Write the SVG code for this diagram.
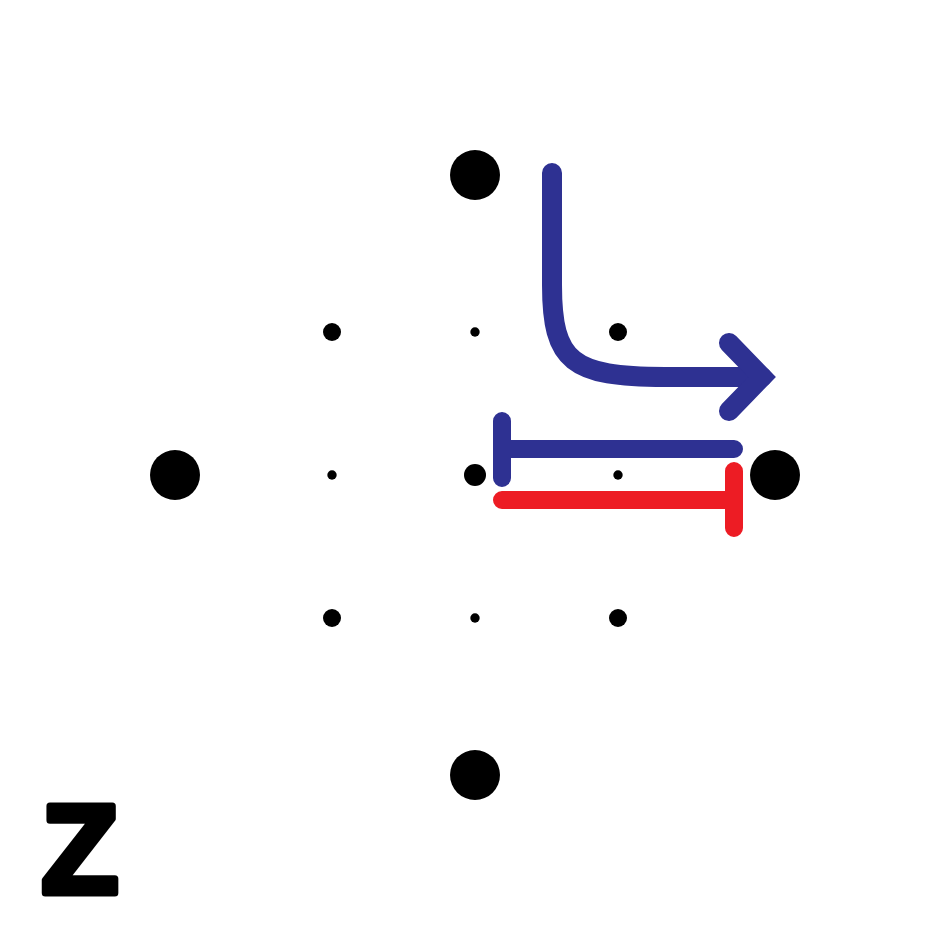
<svg xmlns="http://www.w3.org/2000/svg" width="950" height="950" viewBox="0 0 950 950">
<style>
.dot{fill:#000}
.blue{fill:none;stroke:#2E3192;stroke-linecap:round}
.red{fill:none;stroke:#ED1C24;stroke-linecap:round}
.lbl{font-family:"Liberation Sans",Arial,sans-serif;font-weight:bold;font-size:126px;fill:#000;stroke:#000;stroke-width:7;stroke-linejoin:round}
</style>
<rect width="950" height="950" fill="#fff"/>
<g id="nodes">
<g id="n-top"><circle class="dot" cx="475" cy="175" r="25"/></g>
<g id="n-left"><circle class="dot" cx="175" cy="475" r="25"/></g>
<g id="n-right"><circle class="dot" cx="775" cy="475" r="25"/></g>
<g id="n-bottom"><circle class="dot" cx="475" cy="775" r="25"/></g>
<g id="n-center"><circle class="dot" cx="475" cy="475" r="11"/></g>
<g id="n-tl"><circle class="dot" cx="332" cy="332" r="9"/></g>
<g id="n-tr"><circle class="dot" cx="618" cy="332" r="9"/></g>
<g id="n-bl"><circle class="dot" cx="332" cy="618" r="9"/></g>
<g id="n-br"><circle class="dot" cx="618" cy="618" r="9"/></g>
<g id="n-t"><circle class="dot" cx="475" cy="332" r="4.7"/></g>
<g id="n-l"><circle class="dot" cx="332" cy="475" r="4.7"/></g>
<g id="n-r"><circle class="dot" cx="618" cy="475" r="4.7"/></g>
<g id="n-b"><circle class="dot" cx="475" cy="618" r="4.7"/></g>
</g>
<g id="connectors">
<path class="blue" stroke-width="20" d="M552,173 V285 C552,362 572,377 665,377 H762"/>
<path class="blue" stroke-width="20" stroke-linejoin="miter" d="M729,343 L762,377 L729,411"/>
<path class="blue" stroke-width="18" d="M502,421 V478 M502,449 H734"/>
<path class="red" stroke-width="18" d="M734,471 V528 M734,500 H502"/>
</g>
<g id="label"><text class="lbl" x="80" y="893" text-anchor="middle">Z</text></g>
</svg>
